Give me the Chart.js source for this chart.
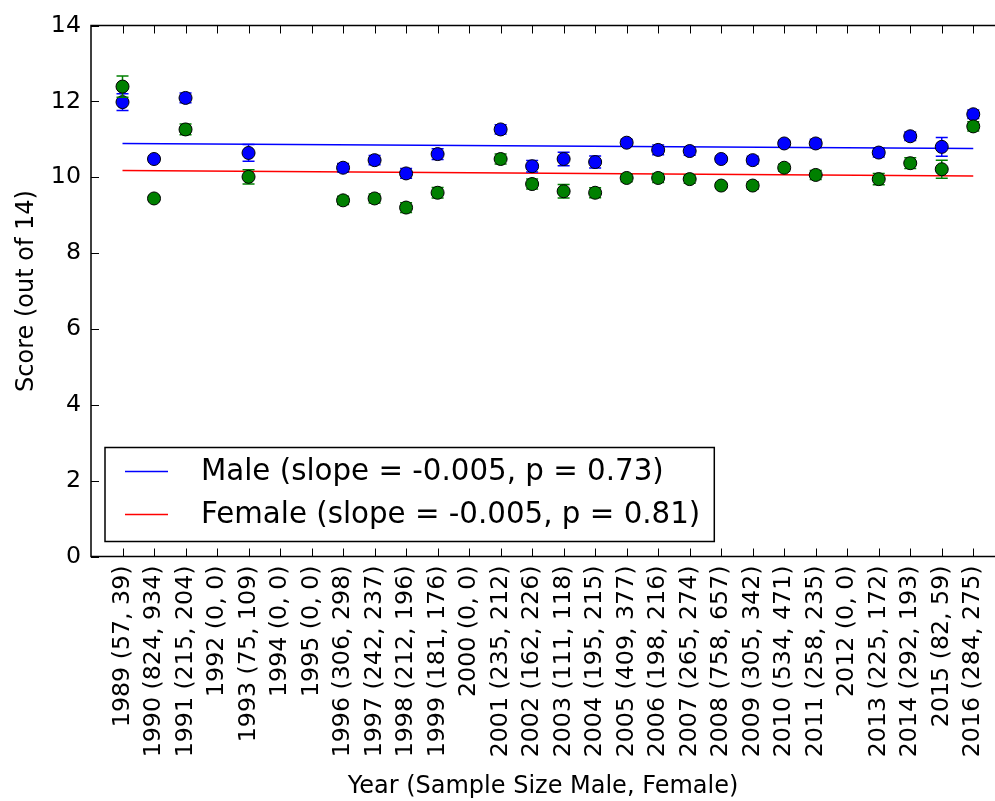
<!DOCTYPE html>
<html>
<head>
<meta charset="utf-8">
<script src="https://cdn.jsdelivr.net/npm/chart.js@4.4.1/dist/chart.umd.min.js"></script>
<style>
  html, body { margin: 0; padding: 0; background: #fff; }
  canvas { display: block; }
</style>
</head>
<body>
<canvas id="myChart" width="995" height="801"></canvas>
<script>
// tick labels: year (sample size male, female)
const years = [1989, 1990, 1991, 1992, 1993, 1994, 1995, 1996, 1997, 1998, 1999, 2000, 2001, 2002,
  2003, 2004, 2005, 2006, 2007, 2008, 2009, 2010, 2011, 2012, 2013, 2014, 2015, 2016];
const maleN = [57, 824, 215, 0, 75, 0, 0, 306, 242, 212, 181, 0, 235, 162,
  111, 195, 409, 198, 265, 758, 305, 534, 258, 0, 225, 292, 82, 284];
const femaleN = [39, 934, 204, 0, 109, 0, 0, 298, 237, 196, 176, 0, 212, 226,
  118, 215, 377, 216, 274, 657, 342, 471, 235, 0, 172, 193, 59, 275];

// mean scores (null = no sample that year)
const maleScore = [11.98, 10.48, 12.09, null, 10.64, null, null, 10.25, 10.45, 10.10, 10.61, null, 11.26, 10.29,
  10.48, 10.40, 10.91, 10.72, 10.69, 10.48, 10.45, 10.89, 10.89, null, 10.65, 11.08, 10.80, 11.66];
const femaleScore = [12.39, 9.44, 11.26, null, 10.01, null, null, 9.39, 9.44, 9.20, 9.59, null, 10.48, 9.82,
  9.63, 9.59, 9.98, 9.98, 9.95, 9.78, 9.78, 10.25, 10.06, null, 9.95, 10.37, 10.21, 11.34];

// error bar half lengths
const maleErr = [0.22, 0.07, 0.13, null, 0.22, null, null, 0.11, 0.12, 0.13, 0.14, null, 0.12, 0.15,
  0.18, 0.16, 0.09, 0.13, 0.11, 0.07, 0.10, 0.08, 0.11, null, 0.12, 0.11, 0.25, 0.11];
const femaleErr = [0.28, 0.07, 0.14, null, 0.19, null, null, 0.11, 0.12, 0.13, 0.14, null, 0.13, 0.13,
  0.18, 0.13, 0.10, 0.12, 0.11, 0.07, 0.10, 0.09, 0.12, null, 0.15, 0.14, 0.24, 0.12];

// regression line values at first and last year
const maleFit = [10.89, 10.76];
const femaleFit = [10.18, 10.03];
const maleLabel = 'Male (slope = -0.005, p = 0.73)';
const femaleLabel = 'Female (slope = -0.005, p = 0.81)';

const font = 'DejaVu Sans';
const lastIdx = years.length - 1;

function toPoints(values, errs) {
  return values
    .map((v, i) => ({ x: i, y: v, err: errs[i] }))
    .filter(p => p.y !== null);
}

function fitPoints(fit) {
  return [{ x: 0, y: fit[0] }, { x: lastIdx, y: fit[1] }];
}

// error bars drawn just before each point dataset
const errorBars = {
  id: 'errorBars',
  beforeDatasetDraw(chart, args) {
    const ds = chart.data.datasets[args.index];
    if (!ds.errorColor) return;
    const ctx = chart.ctx;
    const x = chart.scales.x, y = chart.scales.y;
    ctx.save();
    ctx.strokeStyle = ds.errorColor;
    ctx.lineWidth = 1.5;
    ds.data.forEach(p => {
      const px = x.getPixelForValue(p.x);
      const top = y.getPixelForValue(p.y + p.err);
      const bot = y.getPixelForValue(p.y - p.err);
      ctx.beginPath();
      ctx.moveTo(px, top); ctx.lineTo(px, bot);
      ctx.moveTo(px - 6, top); ctx.lineTo(px + 6, top);
      ctx.moveTo(px - 6, bot); ctx.lineTo(px + 6, bot);
      ctx.stroke();
    });
    ctx.restore();
  }
};

// frame with inward ticks, matplotlib classic look
const frame = {
  id: 'frame',
  afterDraw(chart) {
    const ctx = chart.ctx;
    const a = chart.chartArea;
    ctx.save();
    ctx.strokeStyle = '#000';
    ctx.lineWidth = 1.5;
    ctx.beginPath();
    ctx.moveTo(a.right + 2, a.top); ctx.lineTo(a.left, a.top);
    ctx.lineTo(a.left, a.bottom); ctx.lineTo(a.right + 2, a.bottom);
    ctx.stroke();
    ctx.lineWidth = 1;
    ctx.beginPath();
    chart.scales.x.ticks.forEach(t => {
      const px = Math.round(chart.scales.x.getPixelForValue(t.value)) + 0.5;
      ctx.moveTo(px, a.bottom); ctx.lineTo(px, a.bottom - 8);
      ctx.moveTo(px, a.top); ctx.lineTo(px, a.top + 8);
    });
    chart.scales.y.ticks.forEach(t => {
      const py = Math.round(chart.scales.y.getPixelForValue(t.value)) + 0.5;
      ctx.moveTo(a.left, py); ctx.lineTo(a.left + 8, py);
    });
    ctx.stroke();
    ctx.restore();
  }
};

// legend box in lower left of the plot
const boxLegend = {
  id: 'boxLegend',
  afterDraw(chart) {
    const ctx = chart.ctx;
    const a = chart.chartArea;
    const items = chart.data.datasets.filter(d => d.inLegend);
    ctx.save();
    ctx.font = '29.3px "' + font + '"';
    const textW = Math.max(...items.map(d => ctx.measureText(d.label).width));
    const x0 = a.left + 14, y1 = a.bottom - 15, y0 = y1 - 94;
    const x1 = x0 + 96 + textW + 14;
    ctx.fillStyle = '#fff';
    ctx.fillRect(x0, y0, x1 - x0, y1 - y0);
    ctx.strokeStyle = '#000';
    ctx.lineWidth = 1.5;
    ctx.strokeRect(x0, y0, x1 - x0, y1 - y0);
    items.forEach((d, i) => {
      const cy = y0 + 24 + i * 43;
      ctx.strokeStyle = d.borderColor;
      ctx.lineWidth = 1.5;
      ctx.beginPath();
      ctx.moveTo(x0 + 20, cy); ctx.lineTo(x0 + 63, cy);
      ctx.stroke();
      ctx.fillStyle = '#000';
      ctx.textBaseline = 'middle';
      ctx.fillText(d.label, x0 + 96, cy + 1);
    });
    ctx.restore();
  }
};

const ctx = document.getElementById('myChart').getContext('2d');
new Chart(ctx, {
  type: 'scatter',
  data: {
    datasets: [
      {
        label: maleLabel, inLegend: true, type: 'line', data: fitPoints(maleFit),
        borderColor: '#0000ff', borderWidth: 1.5, pointRadius: 0, fill: false, order: 3
      },
      {
        label: femaleLabel, inLegend: true, type: 'line', data: fitPoints(femaleFit),
        borderColor: '#ff0000', borderWidth: 1.5, pointRadius: 0, fill: false, order: 3
      },
      {
        label: 'Male', data: toPoints(maleScore, maleErr), errorColor: '#0000ff',
        backgroundColor: '#0000ff', borderColor: '#000', borderWidth: 1, pointRadius: 6.5, order: 2
      },
      {
        label: 'Female', data: toPoints(femaleScore, femaleErr), errorColor: '#008000',
        backgroundColor: '#008000', borderColor: '#000', borderWidth: 1, pointRadius: 6.5, order: 1
      }
    ]
  },
  options: {
    responsive: false,
    animation: false,
    layout: { autoPadding: false, padding: { top: 25.5, left: 0, right: 0, bottom: 0 } },
    plugins: { legend: { display: false }, tooltip: { enabled: false } },
    scales: {
      x: {
        type: 'linear', min: -1, max: 27.69,
        grid: { display: false, drawTicks: false },
        border: { display: false },
        afterBuildTicks: s => {
          s.ticks = years.map((y, i) => ({ value: i }));
        },
        afterFit: s => {
          s.height = 244.5;
          s.paddingLeft = 0;
          s.paddingRight = 0;
        },
        ticks: {
          autoSkip: false, minRotation: 90, maxRotation: 90, padding: 9, color: '#000',
          font: { family: font, size: 23.7 },
          callback: v => years[v] + ' (' + maleN[v] + ', ' + femaleN[v] + ')'
        },
        title: {
          display: true, text: 'Year (Sample Size Male, Female)', color: '#000',
          font: { family: font, size: 24 }, padding: { top: 0, bottom: 0 }
        }
      },
      y: {
        min: 0, max: 14,
        grid: { display: false, drawTicks: false },
        border: { display: false },
        afterFit: s => {
          s.width = 91;
          s.paddingTop = 0;
          s.paddingBottom = 0;
        },
        ticks: { stepSize: 2, padding: 10, color: '#000', font: { family: font, size: 23.7 } },
        title: {
          display: true, text: 'Score (out of 14)', color: '#000',
          font: { family: font, size: 24 }, padding: { top: 12, bottom: 0 }
        }
      }
    }
  },
  plugins: [errorBars, frame, boxLegend]
});
</script>
</body>
</html>
